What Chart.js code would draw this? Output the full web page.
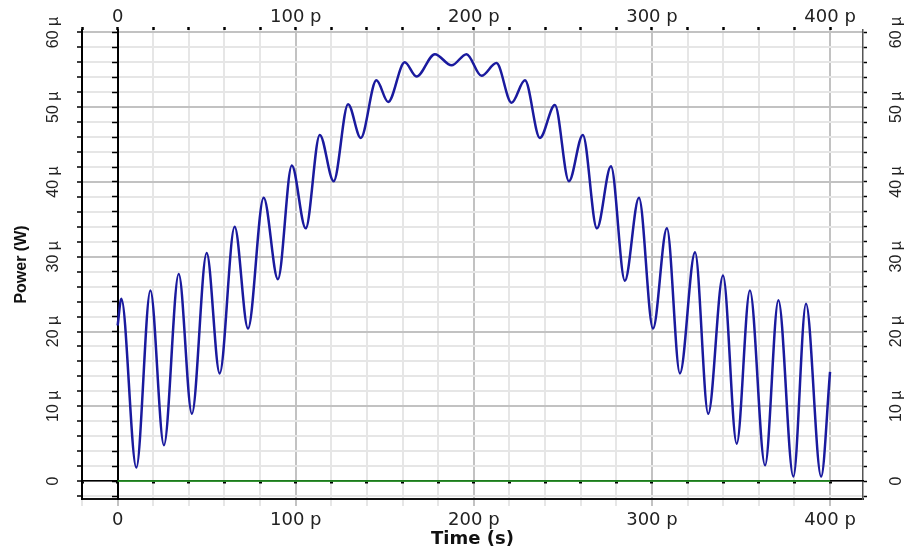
<!DOCTYPE html>
<html>
<head>
<meta charset="utf-8">
<script src="https://cdn.jsdelivr.net/npm/chart.js@4.4.0/dist/chart.umd.min.js"></script>
<style>
  html, body { margin: 0; padding: 0; background: #fff; }
  #wrap { width: 917px; height: 554px; }
</style>
</head>
<body>
<div id="wrap"><canvas id="powerChart"></canvas></div>
<script>
// time in ps, power in microwatts (peaks and troughs)
const timePs = [0, 2.1, 10.5, 18.4, 26.0, 34.3, 41.7, 50.0, 57.3, 65.7, 73.2, 82.0, 90.0, 97.8,
  105.6, 113.5, 121.3, 129.4, 136.5, 145.3, 151.9, 161.2, 167.8, 178.1, 187.5, 195.9, 204.3,
  212.7, 221.2, 228.7, 237.1, 245.5, 253.4, 261.2, 269.1, 277.0, 284.8, 292.7, 300.6, 308.4,
  315.7, 324.2, 331.6, 339.9, 347.6, 355.0, 363.5, 371.0, 379.4, 386.5, 395.0, 400.0];
const powerMicroW = [20.8, 24.4, 1.8, 25.5, 4.8, 27.7, 9.0, 30.5, 14.4, 34.0, 20.4, 37.9, 27.0, 42.2,
  33.8, 46.3, 40.1, 50.4, 45.9, 53.6, 50.7, 56.0, 54.1, 57.1, 55.6, 57.1, 54.2,
  55.9, 50.6, 53.6, 45.9, 50.3, 40.1, 46.3, 33.8, 42.1, 26.8, 37.9, 20.4, 33.8,
  14.4, 30.6, 9.0, 27.5, 5.0, 25.5, 2.1, 24.2, 0.6, 23.7, 0.6, 14.6];

const refTimePs = [0, 400];
const refPower = [0, 0];

const xTicks = [-20, 0, 20, 40, 60, 80, 100, 120, 140, 160, 180, 200, 220, 240, 260, 280, 300,
  320, 340, 360, 380, 400];
const yTicks = [-2, 0, 2, 4, 6, 8, 10, 12, 14, 16, 18, 20, 22, 24, 26, 28, 30, 32, 34, 36, 38, 40,
  42, 44, 46, 48, 50, 52, 54, 56, 58, 60];

const xMin = -20, xMax = 418.5;
const yMin = -2.4, yMax = 60.33;

const xLabel = v => v === 0 ? '0' : (v % 100 === 0 ? v + ' p' : '');
const yLabel = v => v === 0 ? '0' : (v % 10 === 0 ? v + ' µ' : '');
const gridX = c => (c.tick && c.tick.value % 100 === 0) ? '#c2c2c2' : '#e6e6e6';
const gridY = c => (c.tick && c.tick.value % 10 === 0) ? '#c2c2c2' : '#e6e6e6';
const setX = s => { s.ticks = xTicks.map(v => ({ value: v })); };
const setY = s => { s.ticks = yTicks.map(v => ({ value: v })); };

const xFont = { family: 'DejaVu Sans', size: 18 };
const yFont = { family: 'Liberation Sans', size: 16 };

const ctx = document.getElementById('powerChart').getContext('2d');

const chart = new Chart(ctx, {
  type: 'line',
  data: {
    datasets: [{
      label: 'Power',
      data: timePs.map((t, i) => ({ x: t, y: powerMicroW[i] })),
      borderColor: '#1a1a9e',
      borderWidth: 2.5,
      pointRadius: 0,
      cubicInterpolationMode: 'monotone',
      fill: false,
      xAxisID: 'x',
      yAxisID: 'y'
    }, {
      label: 'Reference',
      data: refTimePs.map((t, i) => ({ x: t, y: refPower[i] })),
      borderColor: '#27a327',
      borderWidth: 1.6,
      pointRadius: 0,
      fill: false,
      xAxisID: 'x',
      yAxisID: 'y'
    }]
  },
  options: {
    responsive: true,
    maintainAspectRatio: false,
    animation: false,
    devicePixelRatio: 1,
    layout: { padding: 0 },
    plugins: { legend: { display: false }, tooltip: { enabled: false } },
    scales: {
      x: {
        type: 'linear', axis: 'x', position: 'bottom', min: xMin, max: xMax,
        afterBuildTicks: setX,
        afterFit: s => { s.height = 55; },
        grid: { color: gridX, lineWidth: 2, tickLength: 7, tickColor: gridX, tickWidth: 2 },
        border: { color: '#111', width: 2 },
        ticks: { autoSkip: false, maxRotation: 0, padding: 4, color: '#222', font: xFont, callback: xLabel },
        title: {
          display: true, text: 'Time (s)', color: '#111',
          font: { family: 'DejaVu Sans', size: 18, weight: 'bold' },
          padding: { top: 0, bottom: 4 }
        }
      },
      y: {
        type: 'linear', axis: 'y', position: 'left', min: yMin, max: yMax,
        afterBuildTicks: setY,
        afterFit: s => { s.width = 82; },
        grid: { color: gridY, lineWidth: 2, tickLength: 5, tickColor: '#000', tickWidth: 1.5 },
        border: { color: '#000', width: 2 },
        ticks: {
          autoSkip: false, minRotation: 90, maxRotation: 90, crossAlign: 'center', padding: 8,
          color: '#222', font: yFont, callback: yLabel
        },
        title: {
          display: true, text: 'Power (W)', color: '#111',
          font: { family: 'Liberation Sans', size: 16, weight: 'bold' },
          padding: { top: 12, bottom: 0 }
        }
      },
      xT: {
        type: 'linear', axis: 'x', position: 'top', min: xMin, max: xMax,
        afterBuildTicks: setX,
        afterFit: s => { s.height = 30; },
        grid: { drawOnChartArea: false, tickLength: 3, tickColor: '#000', tickWidth: 2.5 },
        border: { display: false },
        ticks: { autoSkip: false, maxRotation: 0, padding: -1, color: '#222', font: xFont, callback: xLabel }
      },
      yR: {
        type: 'linear', axis: 'y', position: 'right', min: yMin, max: yMax,
        afterBuildTicks: setY,
        afterFit: s => { s.width = 54; },
        grid: { drawOnChartArea: false, tickLength: 4, tickColor: '#000', tickWidth: 1.5 },
        border: { color: '#555', width: 1.5 },
        ticks: {
          autoSkip: false, minRotation: 90, maxRotation: 90, crossAlign: 'center', padding: 14,
          color: '#222', font: yFont, callback: yLabel
        }
      },
      x0: {
        type: 'linear', axis: 'x', position: { y: 0 }, min: xMin, max: xMax,
        afterBuildTicks: setX,
        grid: { drawOnChartArea: false, tickLength: 2, tickColor: '#000', tickWidth: 3 },
        border: { color: '#000', width: 1.5 },
        ticks: { display: false }
      },
      y0: {
        type: 'linear', axis: 'y', position: { x: 0 }, min: yMin, max: yMax,
        afterBuildTicks: setY,
        grid: { drawOnChartArea: false, tickLength: 5, tickColor: '#000', tickWidth: 1.5 },
        border: { color: '#000', width: 2 },
        ticks: { display: false }
      }
    }
  }
});
</script>
</body>
</html>
